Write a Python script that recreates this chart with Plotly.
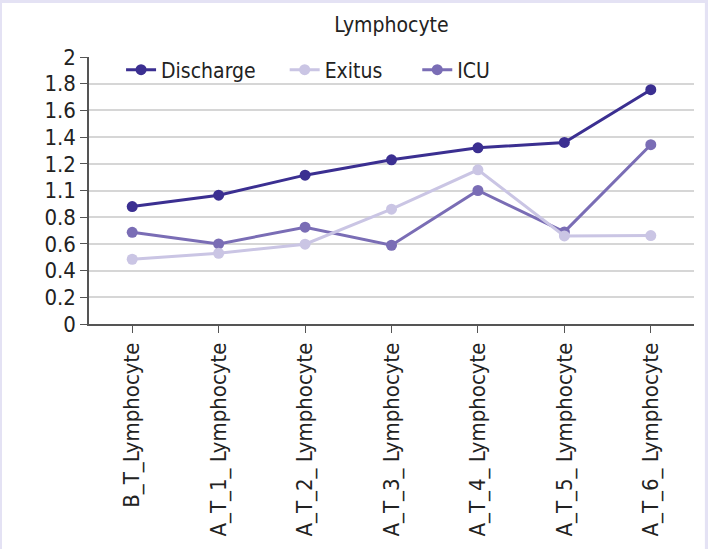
import plotly.graph_objects as go

categorias = [
    "B_T_Lymphocyte", "A_T_1_ Lymphocyte", "A_T_2_ Lymphocyte", "A_T_3_ Lymphocyte",
    "A_T_4_ Lymphocyte", "A_T_5_ Lymphocyte", "A_T_6_ Lymphocyte",
]
discharge = [0.88, 0.965, 1.115, 1.23, 1.32, 1.36, 1.755]
exitus = [0.485, 0.53, 0.598, 0.86, 1.155, 0.66, 0.662]
icu = [0.687, 0.60, 0.725, 0.59, 1.0, 0.69, 1.343]

tick_vals = [0, 0.2, 0.4, 0.6, 0.8, 1.0, 1.2, 1.4, 1.6, 1.8, 2.0]
tick_text = ["0", "0.2", "0.4", "0.6", "0.8", "1.1", "1.2", "1.4", "1.6", "1.8", "2"]

colores = {"Discharge": "#3b2f91", "Exitus": "#cac5e4", "ICU": "#7a6db5"}
fuente = "DejaVu Sans Condensed, Open Sans, sans-serif"
# separación extra entre entradas de la leyenda
relleno = {"Discharge": "&nbsp;" * 4, "Exitus": "&nbsp;" * 5, "ICU": ""}

fig = go.Figure()
# Exitus se dibuja encima de ICU; el orden de la leyenda se fija con legendrank
for nombre, valores, rango in [("Discharge", discharge, 1), ("ICU", icu, 3), ("Exitus", exitus, 2)]:
    fig.add_trace(go.Scatter(
        x=categorias, y=valores, name=nombre + relleno[nombre], mode="lines+markers",
        legendrank=rango,
        line=dict(color=colores[nombre], width=3),
        marker=dict(color=colores[nombre], size=11),
    ))

# marco lavanda con fondo blanco
fig.add_shape(type="rect", xref="paper", yref="paper",
              x0=-0.1438, x1=1.018, y0=-0.95, y1=1.2022,
              fillcolor="white", line_width=0, layer="below")

fig.update_layout(
    width=708, height=549,
    margin=dict(l=89, r=14, t=57, b=225),
    paper_bgcolor="#e4e2f4",
    plot_bgcolor="rgba(0,0,0,0)",
    font=dict(family=fuente, color="#222222"),
    title=dict(text="Lymphocyte", x=0.5, xref="paper", xanchor="center",
               y=0.955, yanchor="middle", font=dict(size=21, color="#222222")),
    showlegend=True,
    legend=dict(orientation="h", x=0.053, xanchor="left", y=0.951, yanchor="middle",
                font=dict(size=21), bgcolor="rgba(0,0,0,0)", itemwidth=30,
                traceorder="normal"),
    xaxis=dict(
        range=[-0.5, 6.5], showgrid=False, showline=True, linecolor="#555555", linewidth=1.5,
        ticks="outside", ticklen=7, tickcolor="#555555", tickangle=-90,
        ticklabelstandoff=1, tickfont=dict(size=22, color="#222222"),
    ),
    yaxis=dict(
        range=[0, 2], tickvals=tick_vals, ticktext=tick_text,
        showgrid=True, gridcolor="#d6d6d6", gridwidth=1.5,
        showline=True, linecolor="#555555", linewidth=1.5, zeroline=False,
        ticks="outside", ticklen=7, tickcolor="#555555",
        tickfont=dict(size=22, color="#222222"),
    ),
)

fig.write_html("out.html", config={"displayModeBar": False},
               post_script="document.body.style.margin='0';")
